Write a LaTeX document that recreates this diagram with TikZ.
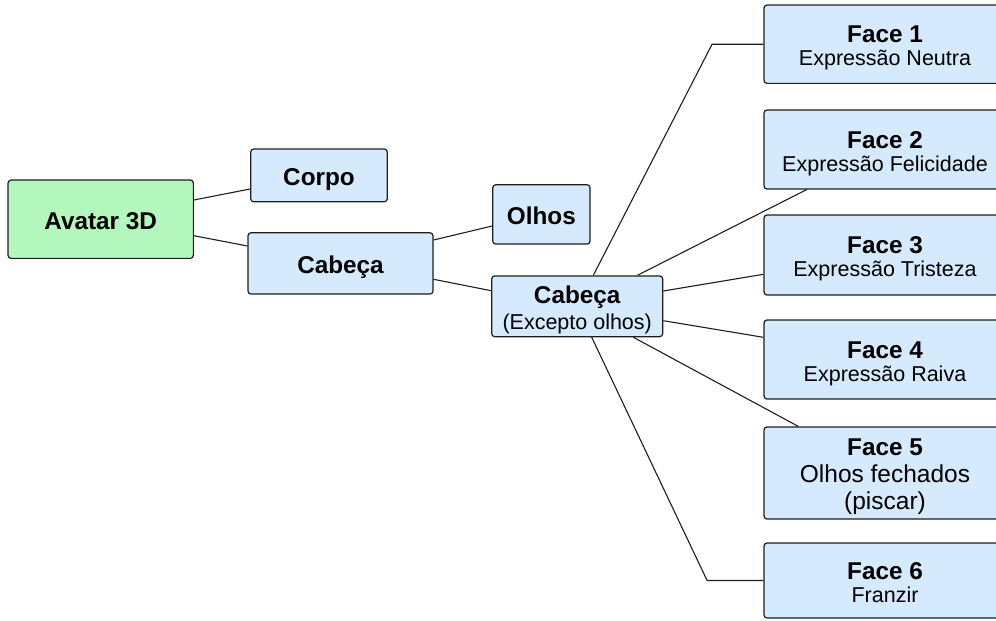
\documentclass[tikz,border=0pt]{standalone}
\usepackage{fontspec}
\setmainfont{Liberation Sans}
\usetikzlibrary{calc}

\definecolor{boxblue}{HTML}{D5EAFC}
\definecolor{rootgreen}{HTML}{B3F7BC}
\definecolor{edgeline}{HTML}{1E1E1E}

\tikzset{
  box/.style={draw=edgeline, line width=1.2pt, rounded corners=3pt,
    fill=boxblue, inner sep=0pt, align=center,
    text height=20pt, text depth=0pt,
    font=\fontsize{21.5}{23}\selectfont},
  rootbox/.style={box, fill=rootgreen},
  facebox/.style={box, minimum width=242pt, text height=43pt},
  link/.style={draw=edgeline, line width=1.1pt},
}
\newcommand{\ttl}[1]{{\fontsize{24.3}{24}\selectfont\bfseries #1}}

\begin{document}
\begin{tikzpicture}[x=1pt,y=-1pt]
  \useasboundingbox (0,0) rectangle (996,621);
  \clip (0,0) rectangle (996,621);

  % tree nodes
  \node[rootbox, minimum width=185.3pt, minimum height=78.3pt] (av) at (100.7,219.2) {\ttl{Avatar 3D}};
  \node[box, minimum width=136.6pt, minimum height=52.7pt] (corpo) at (319,175.4) {\ttl{Corpo}};
  \node[box, minimum width=185pt, minimum height=61.3pt] (cab) at (340.5,263.4) {\ttl{Cabeça}};
  \node[box, minimum width=97.3pt, minimum height=59.3pt] (olhos) at (541.4,214.4) {\ttl{Olhos}};
  \node[box, minimum width=171pt, minimum height=60.7pt, text height=46pt,
        font=\fontsize{21.5}{26}\selectfont] (cx) at (577.2,306.3)
    {\ttl{Cabeça}\\(Excepto olhos)};

  % expression faces
  \node[facebox, minimum height=78.3pt] (f1) at (885,44.2) {\ttl{Face 1}\\Expressão Neutra};
  \node[facebox, minimum height=79pt] (f2) at (885,149.5) {\ttl{Face 2}\\Expressão Felicidade};
  \node[facebox, minimum height=80pt] (f3) at (885,255) {\ttl{Face 3}\\Expressão Tristeza};
  \node[facebox, minimum height=79pt] (f4) at (885,359.5) {\ttl{Face 4}\\Expressão Raiva};
  \node[facebox, minimum height=92pt, text height=72pt,
        font=\fontsize{24.5}{27}\selectfont] (f5) at (885,473)
    {\ttl{Face 5}\\Olhos fechados\\(piscar)};
  \node[facebox, minimum height=75pt] (f6) at (885,580.5) {\ttl{Face 6}\\Franzir};

  % connectors
  \path[link] ($(av.east)+(0,-19.2)$) -- ($(corpo.west)+(0,13.6)$);
  \path[link] ($(av.east)+(0,16.5)$) -- ($(cab.west)+(0,-17.4)$);
  \path[link] ($(cab.east)+(0,-23.4)$) -- ($(olhos.west)+(0,11.6)$);
  \path[link] ($(cab.east)+(0,15.9)$) -- ($(cx.west)+(0,-15.6)$);

  \path[link] ($(cx.north)+(16.1,0)$) -- ($(f1.west)+(-51.3,0)$) -- (f1.west);
  \path[link] ($(cx.north)+(60.1,0)$) -- ($(f2.south)+(-78.3,0)$);
  \path[link] ($(cx.east)+(0,-15.3)$) -- ($(f3.west)+(0,19.3)$);
  \path[link] ($(cx.east)+(0,14.4)$) -- ($(f4.west)+(0,-22.2)$);
  \path[link] ($(cx.south)+(56.1,0)$) -- ($(f5.north)+(-86.7,0)$);
  \path[link] ($(cx.south)+(14.5,0)$) -- ($(f6.west)+(-56.3,0)$) -- (f6.west);
\end{tikzpicture}
\end{document}
